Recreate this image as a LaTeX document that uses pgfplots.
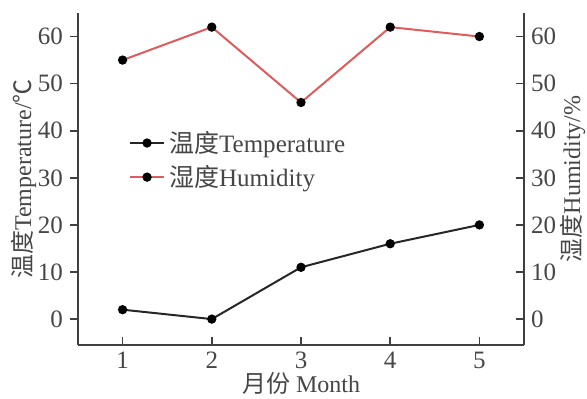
\documentclass[border=0pt]{standalone}
\usepackage{pgfplots}
\pgfplotsset{compat=1.18}
\usepackage{fontspec}
\setmainfont{Liberation Serif}
\newfontfamily\cjk{Noto Sans CJK SC}
\definecolor{hum}{RGB}{222,92,92}
\definecolor{txt}{RGB}{70,70,70}
\begin{document}
\begin{tikzpicture}
\useasboundingbox (-39pt,-27pt) rectangle (254.5pt,172.5pt);
\pgfplotsset{
  every axis/.append style={
    scale only axis, width=223pt, height=166pt,
    xmin=0.5, xmax=5.5, ymin=-5.5, ymax=65,
    font=\fontsize{12.5}{15}\selectfont,
    /pgf/number format/assume math mode=true,
    axis line style={-, line width=0.9pt, black!75},
    tick style={line width=0.8pt, black!75},
    major tick length=4pt,
    tick label style={text=txt},
    label style={text=txt, font=\fontsize{12}{14}\selectfont},
    ytick={0,10,...,60},
  }
}
\begin{axis}[
  axis y line*=left, axis x line*=bottom,
  xtick={1,2,3,4,5},
  xtick align=inside, ytick align=outside,
  xlabel={{\cjk 月份} Month},
  ylabel={{\cjk 温度}Temperature/{\cjk ℃}},
  xlabel style={yshift=5pt},
  ylabel style={yshift=-6pt},
  legend style={draw=none, fill=none, at={(0.1,0.67)}, anchor=north west,
    row sep=1pt, text=txt, font=\fontsize{12.5}{15}\selectfont},
  legend cell align=left,
]
\addplot[black!85, line width=1pt, mark=*, mark size=1.8pt, mark options={fill=black, draw=black}]
  coordinates {(1,2)(2,0)(3,11)(4,16)(5,20)};
\addlegendentry{{\cjk 温度}Temperature}
\addlegendimage{hum, line width=1pt, mark=*, mark size=1.8pt, mark options={fill=black, draw=black}}
\addlegendentry{{\cjk 湿度}Humidity}
\end{axis}
\begin{axis}[
  axis y line*=right, axis x line=none,
  ytick align=inside,
  ylabel={{\cjk 湿度}Humidity/\%},
  ylabel style={yshift=5pt},
]
\addplot[hum, line width=1pt, mark=*, mark size=1.8pt, mark options={fill=black, draw=black}]
  coordinates {(1,55)(2,62)(3,46)(4,62)(5,60)};
\end{axis}
\end{tikzpicture}
\end{document}
